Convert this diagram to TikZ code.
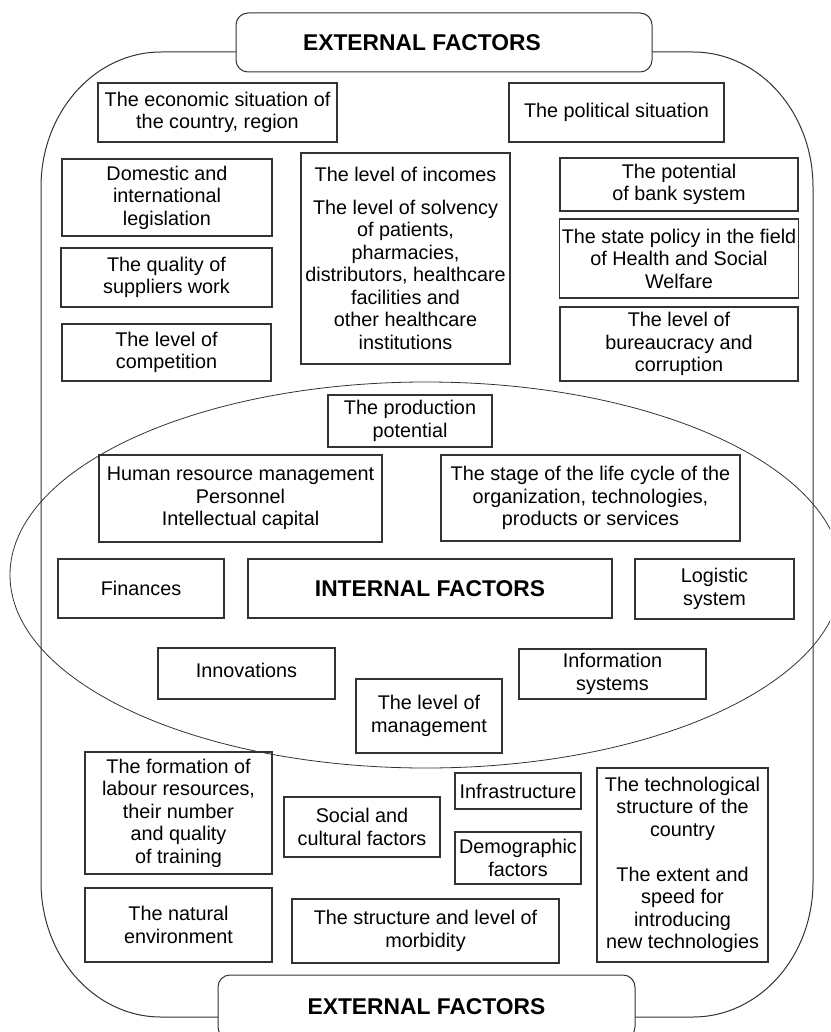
\documentclass[tikz,border=0pt]{standalone}
\usepackage{fontspec}
\setmainfont{Liberation Sans}

\begin{document}
\begin{tikzpicture}[x=1pt,y=-1pt,
  factor/.style={draw=black!80, line width=1.2pt, align=center, inner sep=2pt, font=\fontsize{19.8}{22.5}\selectfont},
  headbox/.style={draw=black!80, line width=1pt, fill=white, rounded corners=12pt, inner sep=0pt, font=\fontsize{22.8}{26}\selectfont\bfseries}]
  \useasboundingbox (0,0) rectangle (830,1032);
  \clip (0,0) rectangle (830,1032);

  % outer frame of the external factors
  \draw [black!80, line width=1pt] (161,52) -- (693,52) .. controls (759,52) and (813,112) .. (813,187)
    -- (813,882) .. controls (813,957) and (759,1017) .. (693,1017) -- (161,1017)
    .. controls (95,1017) and (41,957) .. (41,882) -- (41,187) .. controls (41,112) and (95,52) .. (161,52) -- cycle;

  % internal factors
  \draw [black!80, line width=0.8pt] (426,575) ellipse [x radius=416, y radius=193];

  \node [headbox, minimum width=416pt, minimum height=59pt] (exttop) at (444,42.5) {EXTERNAL FACTORS\hspace*{44pt}};
  \node [headbox, minimum width=417pt, minimum height=64pt] (extbottom) at (426.5,1007) {EXTERNAL FACTORS};

  \node [factor, minimum width=239pt, minimum height=59pt] (economic) at (217.5,112.5) {The economic situation of\\the country, region};
  \node [factor, minimum width=215pt, minimum height=59pt] (political) at (616.5,112.5) {The political situation};
  \node [factor, minimum width=210pt, minimum height=77pt] (legislation) at (167,197.5) {Domestic and\\international\\legislation};
  \node [factor, minimum width=209pt, minimum height=211pt] (incomes) at (405.5,258.5) {The level of incomes\\[10pt]The level of solvency\\of patients,\\pharmacies,\\distributors, healthcare\\facilities and\\other healthcare\\institutions};
  \node [factor, minimum width=238pt, minimum height=53pt] (bank) at (679,184.5) {The potential\\of bank system};
  \node [factor, minimum width=238pt, minimum height=79pt] (statepolicy) at (679,258.5) {The state policy in the field\\of Health and Social\\Welfare};
  \node [factor, minimum width=211pt, minimum height=59pt] (suppliers) at (166.5,277.5) {The quality of\\suppliers work};
  \node [factor, minimum width=209pt, minimum height=57pt] (competition) at (166.5,352.5) {The level of\\competition};
  \node [factor, minimum width=238pt, minimum height=74pt] (bureaucracy) at (679,344) {The level of\\bureaucracy and\\corruption};

  \node [factor, minimum width=164pt, minimum height=52pt] (production) at (410,421) {The production\\potential};
  \node [factor, minimum width=283pt, minimum height=87pt] (hrm) at (240.5,498.5) {Human resource management\\Personnel\\Intellectual capital};
  \node [factor, minimum width=299pt, minimum height=86pt] (lifecycle) at (590.5,498) {The stage of the life cycle of the\\organization, technologies,\\products or services};
  \node [factor, minimum width=166pt, minimum height=59pt] (finances) at (141,588.5) {Finances};
  \node [factor, minimum width=364pt, minimum height=59pt, font=\fontsize{22.8}{26}\selectfont\bfseries] (internal) at (430,588.5) {INTERNAL FACTORS};
  \node [factor, minimum width=159pt, minimum height=60pt] (logistic) at (714.5,589) {Logistic\\system};
  \node [factor, minimum width=177pt, minimum height=51pt, text depth=7pt] (innovations) at (246.5,673.5) {Innovations};
  \node [factor, minimum width=187pt, minimum height=50pt] (infosys) at (612.5,674) {Information\\systems};
  \node [factor, minimum width=146pt, minimum height=74pt] (management) at (429,716) {The level of\\management};

  \node [factor, minimum width=187pt, minimum height=122pt] (labour) at (178.5,813) {The formation of\\labour resources,\\their number\\and quality\\of training};
  \node [factor, minimum width=156pt, minimum height=60pt] (social) at (362,827) {Social and\\cultural factors};
  \node [factor, minimum width=126pt, minimum height=36pt] (infrastructure) at (518,791) {Infrastructure};
  \node [factor, minimum width=126pt, minimum height=52pt] (demographic) at (518,858) {Demographic\\factors};
  \node [factor, minimum width=171pt, minimum height=194pt] (technology) at (682.5,865) {The technological\\structure of the\\country\\[22.5pt]The extent and\\speed for\\introducing\\new technologies};
  \node [factor, minimum width=187pt, minimum height=74pt] (nature) at (178.5,925) {The natural\\environment};
  \node [factor, minimum width=267pt, minimum height=64pt] (morbidity) at (425.5,931) {The structure and level of\\morbidity};

\end{tikzpicture}
\end{document}
